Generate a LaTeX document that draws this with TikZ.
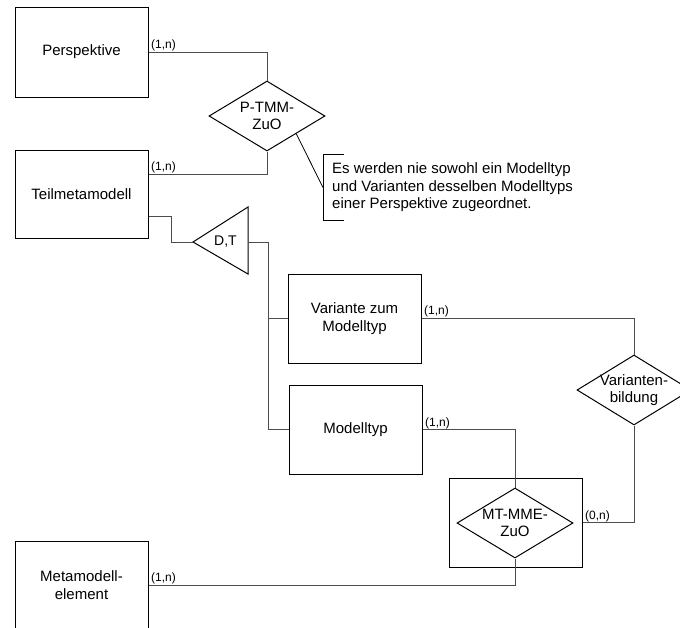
\documentclass[tikz,border=0pt]{standalone}
\usepackage{fontspec}
\setmainfont{Liberation Sans}
\usetikzlibrary{shapes.geometric}
\begin{document}
\begin{tikzpicture}[x=1pt,y=-1pt,
  ent/.style={draw=black, line width=1pt, rectangle, minimum width=133pt,
    minimum height=89pt, inner sep=0pt, align=center,
    font=\fontsize{15}{18}\selectfont},
  rel/.style={draw=black, line width=1pt, diamond, minimum width=116pt,
    minimum height=70pt, inner sep=0pt},
  reltext/.style={align=center, inner sep=0pt, font=\fontsize{15}{17}\selectfont},
  conn/.style={draw=black!70, line width=1pt},
  card/.style={inner sep=0pt, anchor=south west, font=\fontsize{12}{14}\selectfont},
]
\useasboundingbox (0,0) rectangle (680,627);
\clip (0,0) rectangle (680,627);

% entity types
\node[ent, minimum height=90pt] (persp) at (81.5,52) {Perspektive};
\node[ent, minimum height=88pt] (teil) at (81.5,194) {Teilmetamodell};
\node[ent] (var) at (354.5,318.5) {Variante zum\\Modelltyp};
\node[ent] (mt) at (355.5,429.5) {Modelltyp};
\node[ent] (mme) at (81.5,585.5) {Metamodell-\\element};

% relationship types
\node[rel] (ptmm) at (267,116) {};
\node[reltext] (ptmmtext) at (ptmm) {P-TMM-\\ZuO};
\node[rel, minimum width=114pt] (varb) at (634,390) {};
\node[reltext] (varbtext) at (varb) {Varianten-\\bildung};
\node[draw=black, line width=1pt, minimum width=133pt, minimum height=89pt,
  inner sep=0pt] (mtbox) at (515.5,522.5) {};
\node[rel] (mtmme) at (515,523) {};
\node[reltext] (mtmmetext) at (mtmme) {MT-MME-\\ZuO};

% generalization triangle
\coordinate (tritip) at (193,242);
\coordinate (triright) at (248,242);
\draw[line width=1pt] (tritip) -- (248,207) -- (248,274) -- cycle;
\node[inner sep=0pt, font=\fontsize{14}{16}\selectfont] (dt) at (225.5,242) {D,T};

% connectors
\draw[conn] (persp.east) -| (ptmm.north);
\draw[conn] (ptmm.south) |- ([yshift=20pt]teil.east);
\draw[conn] ([yshift=-22pt]teil.east) -- ++(23,0) |- (tritip);
\draw[conn] (triright) -- ++(20,0) coordinate (bus) |- (mt.west);
\draw[conn] (bus |- var.west) -- (var.west);
\draw[conn] (var.east) -| (varb.north);
\draw[conn] (mt.east) -| (mtmme.north);
\draw[conn] (mtbox.east) -| (varb.south);
\draw[conn] (mtmme.south) |- (mme.east);

% cardinalities
\node[card] (c1) at (151,51) {(1,n)};
\node[card] (c2) at (151,173) {(1,n)};
\node[card] (c3) at (424,317) {(1,n)};
\node[card] (c4) at (425,429) {(1,n)};
\node[card] (c5) at (585,522) {(0,n)};
\node[card] (c6) at (151,584) {(1,n)};

% annotation
\node[align=left, anchor=west, inner xsep=9pt, inner ysep=0pt,
  minimum height=65pt, font=\fontsize{15}{17.5}\selectfont] (note) at (323,187.5)
  {Es werden nie sowohl ein Modelltyp\\und Varianten desselben Modelltyps\\einer Perspektive zugeordnet.};
\draw[line width=1pt] ([xshift=21pt]note.north west) -- (note.north west)
  -- (note.south west) -- ([xshift=21pt]note.south west);
\draw[line width=0.8pt] (ptmm.south east) -- (note.west);
\end{tikzpicture}
\end{document}
